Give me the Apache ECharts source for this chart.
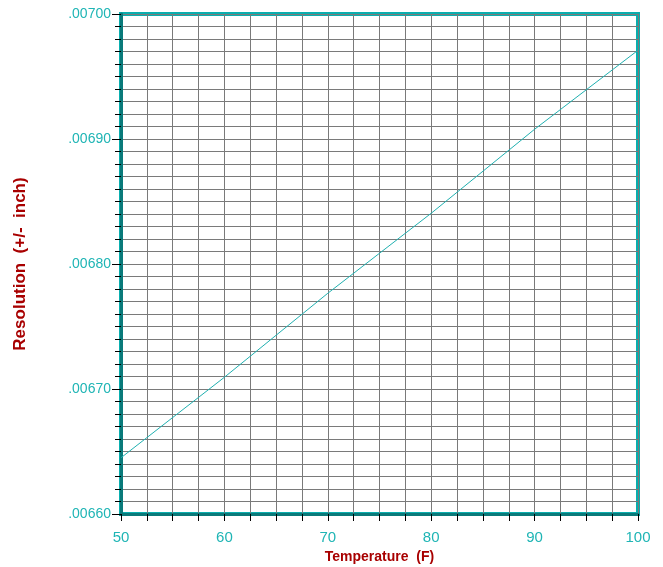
<!DOCTYPE html>
<html>
<head>
<meta charset="utf-8">
<script src="https://cdn.jsdelivr.net/npm/echarts@6/dist/echarts.min.js"></script>
<style>html,body{margin:0;padding:0;background:#fff}#c{width:663px;height:567px}</style>
</head>
<body>
<div id="c"></div>
<script>
// Data
const temperatures = [50, 60, 70, 80, 90, 100];
const resolution = [0.006645, 0.0067094, 0.0067766, 0.0068406, 0.0069078, 0.006971];
const xTitle = 'Temperature  (F)';
const yTitle = 'Resolution  (+/-  inch)';

const teal = '#1fb5b5';
const darkRed = '#a80000';
const chart = echarts.init(document.getElementById('c'), null, {renderer: 'canvas'});
chart.setOption({
  animation: false,
  grid: {left: 121, right: 25, top: 14, bottom: 53, show: true, borderColor: '#0aaeae', borderWidth: 4,
    backgroundColor: '#fff', containLabel: false, outerBoundsMode: 'none'},
  xAxis: {
    type: 'value', min: 50, max: 100, interval: 10,
    name: xTitle, nameLocation: 'middle', nameGap: 34,
    nameTextStyle: {color: darkRed, fontWeight: 'bold', fontSize: 14, fontFamily: 'Liberation Sans'},
    axisLine: {show: true, lineStyle: {color: '#0a7a7a', width: 3}},
    axisTick: {show: true, length: 7, lineStyle: {color: '#000', width: 1}},
    minorTick: {show: true, splitNumber: 4, length: 7, lineStyle: {color: '#000', width: 1}},
    splitLine: {show: true, lineStyle: {color: '#7a7a7a', width: 1}},
    minorSplitLine: {show: true, lineStyle: {color: '#7a7a7a', width: 1}},
    axisLabel: {color: teal, fontSize: 15, fontFamily: 'Liberation Sans', margin: 16}
  },
  yAxis: {
    type: 'value', min: 0.0066, max: 0.0070, interval: 0.0001,
    name: yTitle, nameLocation: 'middle', nameGap: 92, nameRotate: 90,
    nameTextStyle: {color: darkRed, fontWeight: 'bold', fontSize: 17, fontFamily: 'Liberation Sans'},
    axisLine: {show: true, lineStyle: {color: '#0a7a7a', width: 3}},
    axisTick: {show: true, length: 9, lineStyle: {color: '#000', width: 1}},
    minorTick: {show: true, splitNumber: 10, length: 6, lineStyle: {color: '#000', width: 1}},
    splitLine: {show: true, lineStyle: {color: '#7a7a7a', width: 1}},
    minorSplitLine: {show: true, lineStyle: {color: '#7a7a7a', width: 1}},
    axisLabel: {color: teal, fontSize: 14, fontFamily: 'Liberation Sans', margin: 10,
      formatter: v => v.toFixed(5).substring(1)}
  },
  series: [{
    type: 'line', data: temperatures.map((t, i) => [t, resolution[i]]),
    symbol: 'none', lineStyle: {color: '#20b0b0', width: 1}
  }]
});
</script>
</body>
</html>
